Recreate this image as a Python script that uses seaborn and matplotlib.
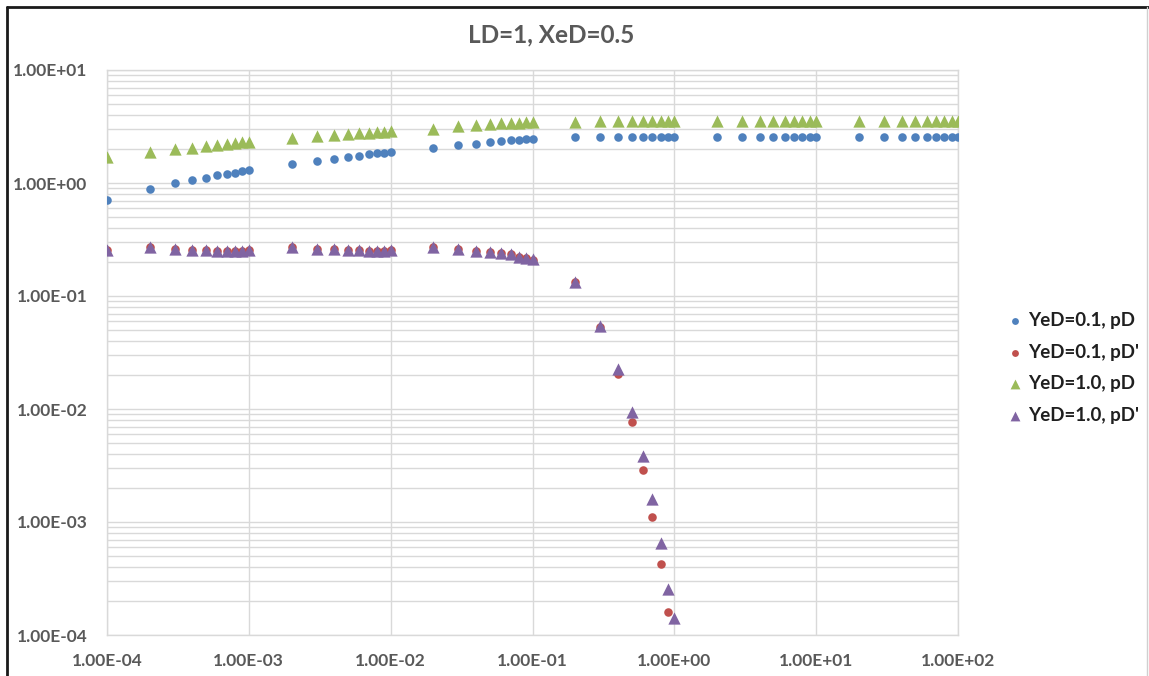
import numpy as np
import pandas as pd
import matplotlib
matplotlib.use("Agg")
import matplotlib.pyplot as plt
from matplotlib.lines import Line2D
from matplotlib.ticker import FuncFormatter, NullFormatter, LogLocator
import seaborn as sns

# Dimensionless time
t = [
    1e-4, 2e-4, 3e-4, 4e-4, 5e-4, 6e-4, 7e-4, 8e-4, 9e-4,
    1e-3, 2e-3, 3e-3, 4e-3, 5e-3, 6e-3, 7e-3, 8e-3, 9e-3,
    1e-2, 2e-2, 3e-2, 4e-2, 5e-2, 6e-2, 7e-2, 8e-2, 9e-2,
    1e-1, 2e-1, 3e-1, 4e-1, 5e-1, 6e-1, 7e-1, 8e-1, 9e-1,
    1.0, 2.0, 3.0, 4.0, 5.0, 6.0, 7.0, 8.0, 9.0,
    10.0, 20.0, 30.0, 40.0, 50.0, 60.0, 70.0, 80.0, 90.0,
    100.0,
]

# YeD = 0.1, dimensionless pressure
pd_yed01 = [
    0.708, 0.879, 0.993, 1.064, 1.114, 1.169, 1.202, 1.233, 1.270,
    1.294, 1.47, 1.57, 1.62, 1.70, 1.75, 1.81, 1.83, 1.85,
    1.87, 2.05, 2.17, 2.23, 2.29, 2.33, 2.38, 2.41, 2.44,
    2.46, 2.55, 2.56, 2.57, 2.57, 2.57, 2.57, 2.57, 2.57,
    2.57, 2.57, 2.57, 2.57, 2.57, 2.57, 2.57, 2.57, 2.57,
    2.57, 2.57, 2.57, 2.57, 2.57, 2.57, 2.57, 2.57, 2.57,
    2.57,
]

# YeD = 1.0, dimensionless pressure
pd_yed10 = [
    1.69, 1.88, 1.98, 2.06, 2.13, 2.18, 2.23, 2.26, 2.29,
    2.32, 2.49, 2.62, 2.67, 2.72, 2.75, 2.79, 2.82, 2.85,
    2.90, 3.03, 3.19, 3.24, 3.33, 3.37, 3.40, 3.42, 3.44,
    3.47, 3.49, 3.52, 3.53, 3.53, 3.53, 3.53, 3.53, 3.53,
    3.53, 3.53, 3.53, 3.53, 3.53, 3.53, 3.53, 3.53, 3.53,
    3.53, 3.53, 3.53, 3.53, 3.53, 3.53, 3.53, 3.53, 3.53,
    3.53,
]

# YeD = 0.1, pressure derivative (defined up to tD = 1)
dpd_yed01 = [
    0.256, 0.272, 0.260, 0.257, 0.254, 0.252, 0.251, 0.250, 0.251,
    0.255, 0.272, 0.261, 0.258, 0.255, 0.253, 0.252, 0.251, 0.252,
    0.256, 0.274, 0.261, 0.252, 0.247, 0.239, 0.233, 0.222, 0.215,
    0.210, 0.133, 0.053, 0.0203, 0.00773, 0.0029, 0.00111, 0.000423, 0.00016,
    0.00007,
]

# YeD = 1.0, pressure derivative (defined up to tD = 1)
dpd_yed10 = [
    0.255, 0.270, 0.259, 0.257, 0.254, 0.252, 0.251, 0.250, 0.251,
    0.254, 0.271, 0.260, 0.258, 0.255, 0.253, 0.252, 0.251, 0.252,
    0.255, 0.273, 0.261, 0.252, 0.247, 0.239, 0.234, 0.223, 0.216,
    0.211, 0.134, 0.0543, 0.0226, 0.00935, 0.00386, 0.0016, 0.000649, 0.000257,
    0.000141,
]

x_ticks = [1e-4, 1e-3, 1e-2, 1e-1, 1e0, 1e1, 1e2]
y_ticks = [1e-4, 1e-3, 1e-2, 1e-1, 1e0, 1e1]

labels = ["YeD=0.1, pD", "YeD=0.1, pD'", "YeD=1.0, pD", "YeD=1.0, pD'"]
colors = ["#4F81BD", "#C0504D", "#9BBB59", "#8064A2"]
markers = ["o", "o", "^", "^"]
sizes = [38, 38, 78, 78]
values = [pd_yed01, dpd_yed01, pd_yed10, dpd_yed10]

sns.set_theme(style="white")
plt.rcParams["font.family"] = ["Lato", "DejaVu Sans"]

W, H = 1149, 676
fig = plt.figure(figsize=(W / 100, H / 100), dpi=100)
ax = fig.add_axes([107 / W, 1 - 635 / H, (958 - 107) / W, (635 - 70) / H])

for lab, col, mk, sz, vals in zip(labels, colors, markers, sizes, values):
    sns.scatterplot(x=t[:len(vals)], y=vals, marker=mk, color=col, s=sz,
                    linewidth=0, label=lab, ax=ax, zorder=3)

ax.set_xscale("log")
ax.set_yscale("log")
ax.set_xlim(x_ticks[0], x_ticks[-1])
ax.set_ylim(y_ticks[0], y_ticks[-1])
ax.set_xticks(x_ticks)
ax.set_yticks(y_ticks)
ax.set_xticks([], minor=True)

grid_c = "#D9D9D9"
ax.yaxis.set_minor_locator(LogLocator(base=10, subs=np.arange(2, 10)))
ax.yaxis.set_minor_formatter(NullFormatter())
ax.grid(True, which="major", axis="both", color=grid_c, linewidth=1.0)
ax.grid(True, which="minor", axis="y", color=grid_c, linewidth=1.0)
for sp in ax.spines.values():
    sp.set_color(grid_c)
    sp.set_linewidth(1.0)

fmt = FuncFormatter(lambda v, p: f"{v:.2E}")
ax.xaxis.set_major_formatter(fmt)
ax.yaxis.set_major_formatter(fmt)
ax.tick_params(axis="both", which="both", length=0, labelsize=12.5,
               labelcolor="#595959")
ax.tick_params(axis="y", pad=14)
ax.tick_params(axis="x", pad=13)
for lbl in ax.get_xticklabels() + ax.get_yticklabels():
    lbl.set_fontweight("bold")

fig.text(551 / W, 1 - 35 / H, "LD=1, XeD=0.5", ha="center", va="center",
         fontsize=17.5, fontweight="bold", color="#595959")

leg = ax.legend(loc="center left", bbox_to_anchor=(1007 / W, 1 - 368 / H),
                bbox_transform=fig.transFigure, frameon=False,
                borderpad=0, borderaxespad=0, handlelength=0.8,
                handletextpad=0.3, labelspacing=0.78, markerscale=0.8,
                prop={"family": "Lato", "weight": "bold", "size": 13.5})
for txt in leg.get_texts():
    txt.set_color("#1F1F1F")

# Chart frame
y_top = 1 - 7 / H
x_left = 7 / W
fig.add_artist(Line2D([x_left, 1], [y_top, y_top], transform=fig.transFigure,
                      color="#1A1A1A", linewidth=2.0))
fig.add_artist(Line2D([x_left, x_left], [0, y_top], transform=fig.transFigure,
                      color="#1A1A1A", linewidth=2.0))
fig.add_artist(Line2D([1147 / W, 1147 / W], [0, y_top], transform=fig.transFigure,
                      color="#D0D0D0", linewidth=1.0))

fig.savefig("out.png", dpi=100)
